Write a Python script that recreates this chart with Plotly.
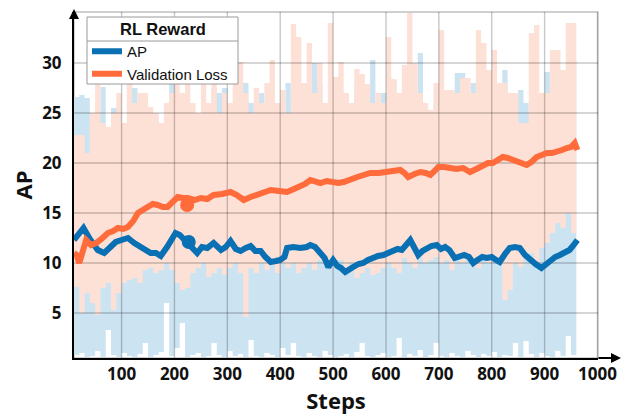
import plotly.graph_objects as go

# ---------------- data ----------------
raw_steps = list(range(10, 961, 10))

ap_raw_hi = [26.6, 26.8, 26.5, 19.0, 25.0, 27.6, 22.0, 25.5, 25.5, 24.0,
             28.5, 27.5, 24.0, 27.0, 23.0, 25.0, 22.0, 24.0, 28.0, 26.0,
             24.0, 25.0, 23.0, 22.0, 25.0, 24.0, 27.5, 27.0, 27.5, 24.0,
             23.0, 28.0, 28.0, 26.0, 24.0, 27.0, 25.0, 24.0, 22.0, 25.0,
             28.0, 26.0, 24.0, 27.0, 25.0, 30.0, 28.0, 24.0, 25.0, 25.0,
             25.0, 26.0, 24.0, 27.0, 25.0, 26.0, 30.3, 25.0, 27.0, 26.0,
             28.3, 25.0, 27.0, 30.0, 26.0, 31.0, 25.0, 24.0, 26.0, 25.0,
             24.0, 26.0, 29.0, 29.0, 26.0, 28.0, 25.0, 27.0, 26.0, 24.0,
             26.0, 29.3, 25.0, 24.0, 27.3, 26.0, 25.0, 24.0, 27.0, 29.1,
             27.0, 26.0, 25.0, 27.0, 30.4, 30.0]
ap_raw_lo = [0.8, 1.0, 0.6, 0.7, 1.2, 0.6, 3.3, 0.8, 0.6, 1.0,
             0.7, 0.6, 0.9, 2.0, 0.6, 0.8, 1.1, 6.0, 0.7, 1.5,
             4.0, 0.6, 0.8, 1.0, 0.6, 0.7, 2.0, 0.8, 0.6, 1.2,
             0.7, 0.9, 0.6, 2.3, 0.7, 0.6, 1.0, 0.8, 0.6, 1.5,
             0.8, 2.0, 0.7, 0.6, 1.0, 0.7, 0.6, 1.2, 0.8, 0.6,
             0.7, 0.9, 0.6, 1.1, 2.0, 0.7, 0.6, 0.8, 1.0, 0.6,
             0.7, 2.5, 0.6, 0.9, 0.7, 1.3, 0.6, 0.8, 2.0, 0.7,
             0.6, 1.0, 0.7, 0.6, 1.2, 0.8, 0.6, 0.9, 0.7, 1.1,
             0.6, 0.8, 0.7, 2.0, 0.6, 2.2, 0.9, 0.6, 1.0, 0.7,
             0.6, 1.2, 0.7, 2.7, 0.8, 0.6]

loss_raw_hi = [22.8, 22.8, 21.0, 25.0, 28.0, 24.0, 23.6, 25.0, 27.0, 24.0,
               28.0, 26.0, 27.0, 27.0, 25.6, 25.0, 24.0, 26.0, 27.0, 28.3,
               27.0, 28.0, 26.0, 25.0, 28.0, 26.0, 29.0, 25.0, 27.0, 26.0,
               30.0, 30.1, 27.0, 25.0, 27.5, 26.0, 28.0, 30.3, 26.0, 27.3,
               25.0, 33.9, 32.6, 28.0, 32.0, 27.0, 30.0, 26.0, 34.0, 28.6,
               30.1, 27.0, 26.0, 29.4, 28.9, 27.9, 26.0, 27.0, 26.0, 32.6,
               28.4, 27.0, 29.8, 35.0, 30.0, 27.0, 26.0, 25.3, 28.0, 33.3,
               27.3, 27.3, 27.0, 28.5, 28.5, 27.0, 33.3, 32.0, 29.3, 31.3,
               28.0, 28.0, 27.0, 27.0, 24.0, 24.0, 33.0, 33.8, 27.0, 27.0,
               31.3, 31.3, 29.3, 34.0, 34.0, 29.4]
loss_raw_lo = [7.6, 5.0, 7.0, 6.0, 4.8, 7.5, 8.0, 5.3, 7.0, 8.0,
               8.3, 8.5, 8.0, 9.3, 9.5, 9.0, 9.3, 10.0, 9.3, 8.0,
               7.3, 7.5, 9.0, 9.5, 10.0, 8.6, 9.0, 9.5, 8.8, 9.5,
               10.0, 9.0, 4.6, 9.5, 9.0, 10.0, 9.3, 9.8, 9.0, 10.0,
               9.5, 10.0, 9.0, 9.5, 10.0, 9.3, 10.3, 10.0, 9.5, 10.3,
               10.3, 9.0, 10.0, 8.5, 9.0, 9.5, 8.8, 9.0, 9.5, 10.0,
               9.5, 9.0, 10.5, 10.0, 9.5, 10.5, 10.0, 10.3, 10.6, 10.0,
               10.3, 9.3, 10.5, 10.0, 10.6, 10.0, 9.5, 10.3, 10.0, 10.5,
               10.0, 6.3, 7.3, 10.0, 9.6, 10.5, 11.0, 10.0, 11.5, 12.0,
               13.0, 14.0, 13.5, 15.0, 13.0, 12.6]

ap_steps = [10, 20, 28, 40, 55, 67, 78, 89, 100, 112, 124, 136, 145, 155, 165,
            174, 186, 195, 202, 210, 222, 232, 243, 252, 262, 274, 288, 297,
            306, 316, 325, 335, 344, 353, 363, 372, 382, 392, 400, 408, 413,
            425, 438, 450, 457, 466, 476, 484, 491, 500, 508, 515, 523, 530,
            538, 548, 557, 566, 576, 585, 595, 604, 614, 622, 630, 638, 646,
            654, 661, 669, 677, 686, 696, 704, 712, 720, 730, 740, 748, 757,
            765, 773, 782, 791, 800, 808, 815, 825, 834, 844, 853, 863, 872,
            883, 894, 902, 910, 920, 929, 938, 947, 955, 962]
ap_smooth = [12.3, 13.0, 13.5, 12.4, 11.3, 11.0, 11.5, 12.1, 12.3, 12.5, 12.0,
             11.6, 11.2, 11.0, 11.0, 10.7, 11.6, 12.4, 13.0, 12.8, 12.2, 11.5,
             11.0, 11.6, 11.5, 12.0, 11.3, 11.6, 12.2, 11.4, 11.2, 11.5, 11.7,
             11.2, 11.2, 10.6, 10.1, 10.2, 10.3, 10.6, 11.5, 11.6, 11.5, 11.6,
             11.8, 11.6, 11.0, 10.5, 9.6, 10.3, 9.7, 9.5, 9.1, 9.4, 9.6, 9.9,
             10.0, 10.3, 10.6, 10.7, 10.8, 11.0, 11.3, 11.4, 11.3, 11.8, 12.3,
             11.5, 10.8, 11.2, 11.5, 11.7, 11.8, 11.4, 11.6, 11.3, 10.5, 10.6,
             10.8, 10.6, 10.0, 10.3, 10.6, 10.5, 10.6, 10.3, 10.1, 10.9, 11.5,
             11.6, 11.5, 10.8, 10.3, 9.9, 9.5, 9.9, 10.3, 10.6, 10.8, 11.0,
             11.3, 11.8, 12.3]

loss_steps = [10, 15, 20, 26, 33, 42, 52, 62, 74, 84, 93, 103, 112, 122, 131,
              140, 150, 159, 168, 178, 187, 196, 206, 216, 225, 238, 250, 262,
              274, 290, 306, 318, 331, 344, 357, 370, 382, 398, 413, 426, 438,
              447, 457, 466, 476, 488, 500, 510, 520, 533, 546, 558, 570, 586,
              602, 614, 627, 635, 642, 654, 665, 675, 684, 692, 699, 710, 721,
              733, 746, 759, 771, 784, 793, 802, 812, 821, 830, 840, 853, 866,
              875, 885, 895, 904, 914, 923, 933, 942, 950, 957, 962]
loss_smooth = [11.0, 10.8, 10.0, 11.2, 12.3, 11.8, 12.0, 12.4, 13.0, 13.2, 13.5,
               13.4, 13.6, 14.2, 15.0, 15.3, 15.6, 15.9, 15.8, 15.6, 15.6, 16.0,
               16.6, 16.5, 16.5, 16.3, 16.5, 16.4, 16.8, 16.9, 17.1, 16.8, 16.3,
               16.6, 16.8, 17.0, 17.3, 17.2, 17.1, 17.4, 17.6, 17.9, 18.3, 18.1,
               18.0, 18.2, 18.1, 18.0, 18.1, 18.4, 18.6, 18.8, 19.0, 19.0, 19.1,
               19.2, 19.3, 19.0, 18.6, 18.9, 19.1, 19.0, 18.8, 19.2, 19.6, 19.6,
               19.5, 19.4, 19.5, 19.1, 19.4, 19.8, 20.0, 20.0, 20.3, 20.6, 20.5,
               20.3, 20.0, 19.8, 20.1, 20.6, 20.8, 21.0, 21.0, 21.1, 21.3, 21.5,
               21.6, 22.0, 21.3]

ap_mark_step, ap_mark_val = [227], [12.1]
loss_mark_step, loss_mark_val = [224], [15.8]

x_ticks = [100, 200, 300, 400, 500, 600, 700, 800, 900, 1000]
y_ticks = [5, 10, 15, 20, 25, 30]
x_range = [10, 1001]
y_range = [0.5, 35.1]
legend_title = "RL Reward"

# ---------------- styles ----------------
BLUE = "#0a70b4"
ORANGE = "#ff6b3b"
BLUE_RAW = "#cce3f2"
PINK_RAW = "#fde0d6"
TICKFONT = dict(family="Open Sans", size=17, color="#111111", weight=700)
TITLEFONT = dict(family="Open Sans", size=22, color="#111111", weight=700)

# The page body has an 8px default margin, so the figure sits 8px right/down
# of the window origin.  Layout is given in window pixels and converted.
OFF = 8
W, H = 644, 420
PLOT_L, PLOT_R, PLOT_T, PLOT_B = 74, 598, 12, 358      # plot box in window pixels
ML, MT = PLOT_L - OFF, PLOT_T - OFF
PW, PH = PLOT_R - PLOT_L, PLOT_B - PLOT_T
MR, MB = W - ML - PW, H - MT - PH


def px_x(p):   # window pixel column -> paper x
    return (p - PLOT_L) / PW


def px_y(p):   # window pixel row -> paper y
    return (PLOT_B - p) / PH


fig = go.Figure()

# raw (unsmoothed) bands
fig.add_trace(go.Scatter(x=raw_steps, y=ap_raw_lo, mode="lines", line=dict(width=0, shape="hv"),
                         showlegend=False, hoverinfo="skip"))
fig.add_trace(go.Scatter(x=raw_steps, y=ap_raw_hi, mode="lines", line=dict(width=0, shape="hv"),
                         fill="tonexty", fillcolor=BLUE_RAW, showlegend=False, hoverinfo="skip"))
fig.add_trace(go.Scatter(x=raw_steps, y=loss_raw_lo, mode="lines", line=dict(width=0, shape="hv"),
                         showlegend=False, hoverinfo="skip"))
fig.add_trace(go.Scatter(x=raw_steps, y=loss_raw_hi, mode="lines", line=dict(width=0, shape="hv"),
                         fill="tonexty", fillcolor=PINK_RAW, showlegend=False, hoverinfo="skip"))

# grid lines drawn above the raw bands, below the smoothed curves
gx, gy = [], []
for xv in x_ticks:
    gx += [xv, xv, None]
    gy += [y_range[0], y_range[1], None]
for yv in y_ticks:
    gx += [x_range[0], x_range[1], None]
    gy += [yv, yv, None]
fig.add_trace(go.Scatter(x=gx, y=gy, mode="lines", line=dict(color="rgba(0,0,0,0.22)", width=1.4),
                         showlegend=False, hoverinfo="skip"))

# smoothed curves
fig.add_trace(go.Scatter(x=ap_steps, y=ap_smooth, mode="lines", name="AP",
                         line=dict(color=BLUE, width=6)))
fig.add_trace(go.Scatter(x=loss_steps, y=loss_smooth, mode="lines", name="Validation Loss",
                         line=dict(color=ORANGE, width=6)))

# highlighted points
fig.add_trace(go.Scatter(x=ap_mark_step, y=ap_mark_val, mode="markers",
                         marker=dict(color=BLUE, size=14), showlegend=False))
fig.add_trace(go.Scatter(x=loss_mark_step, y=loss_mark_val, mode="markers",
                         marker=dict(color=ORANGE, size=14), showlegend=False))

BOX_L, BOX_R, BOX_T, BOX_B, SEP = 87, 238, 17, 84, 41

fig.update_layout(
    width=W, height=H,
    margin=dict(l=ML, r=MR, t=MT, b=MB),
    paper_bgcolor="white", plot_bgcolor="white",
    showlegend=True,
    legend=dict(
        x=px_x(BOX_L), y=px_y(35), xanchor="left", yanchor="top",
        bgcolor="rgba(0,0,0,0)", borderwidth=0,
        font=dict(family="Liberation Sans", size=15, color="#111111"),
        itemwidth=30, tracegroupgap=0, traceorder="normal",
    ),
    xaxis=dict(range=x_range, tickvals=x_ticks, ticktext=[str(v) for v in x_ticks],
               showgrid=False, zeroline=False, showline=True, linecolor="black", linewidth=2,
               ticks="", ticklen=0, tickfont=TICKFONT, ticklabelstandoff=0, automargin=False,
               title=dict(text="Steps", font=TITLEFONT, standoff=1)),
    yaxis=dict(range=y_range, tickvals=y_ticks, ticktext=[str(v) for v in y_ticks],
               showgrid=False, zeroline=False, showline=True, linecolor="black", linewidth=2,
               ticks="", ticklen=0, tickfont=TICKFONT, ticklabelstandoff=7, automargin=False,
               title=dict(text="AP", font=TITLEFONT, standoff=11)),
    shapes=[
        dict(type="rect", xref="paper", yref="paper", x0=0, y0=0, x1=1, y1=1,
             line=dict(color="rgba(0,0,0,0.25)", width=1.4), layer="below"),
        # legend frame with title row
        dict(type="rect", xref="paper", yref="paper",
             x0=px_x(BOX_L), x1=px_x(BOX_R), y0=px_y(BOX_B), y1=px_y(BOX_T),
             fillcolor="white", line=dict(color="#9a9a9a", width=1), layer="above"),
        dict(type="line", xref="paper", yref="paper",
             x0=px_x(BOX_L), x1=px_x(BOX_R), y0=px_y(SEP), y1=px_y(SEP),
             line=dict(color="#9a9a9a", width=1), layer="above"),
    ],
    annotations=[
        dict(x=px_x((BOX_L + BOX_R) / 2), y=px_y((BOX_T + SEP) / 2), xref="paper", yref="paper",
             text="<b>" + legend_title + "</b>", showarrow=False, xanchor="center", yanchor="middle",
             font=dict(family="Liberation Sans", size=16.5, color="#111111")),
        dict(x=0, y=px_y(2), xref="paper", yref="paper", ax=0, ay=12, text="",
             showarrow=True, arrowhead=2, arrowsize=1, arrowwidth=2, arrowcolor="black"),
        dict(x=px_x(621), y=0, xref="paper", yref="paper", ax=-24, ay=0, text="",
             showarrow=True, arrowhead=2, arrowsize=1, arrowwidth=2, arrowcolor="black"),
    ],
)

fig.write_html("out.html")
